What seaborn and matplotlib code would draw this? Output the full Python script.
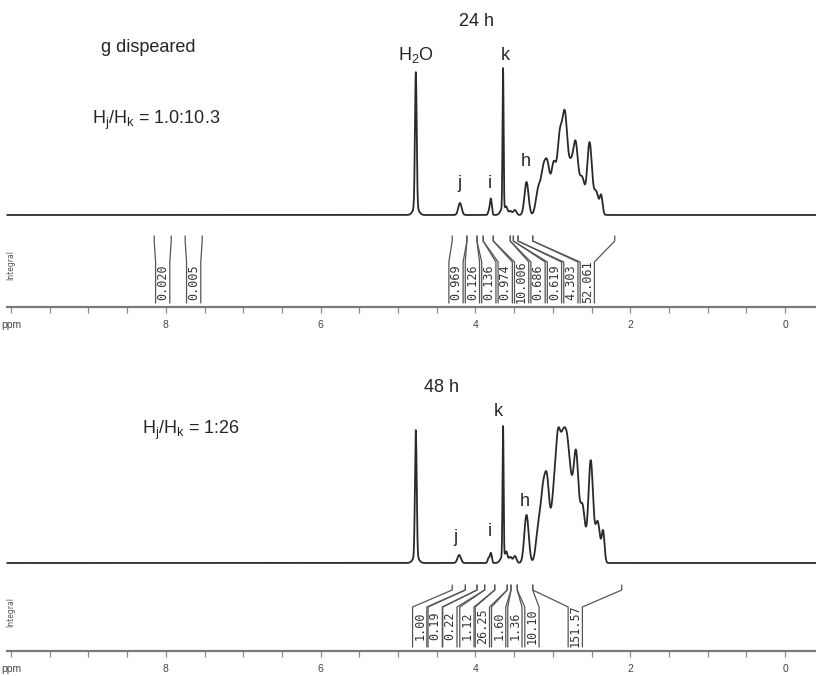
import numpy as np
import pandas as pd
import matplotlib
matplotlib.use("Agg")
import matplotlib.pyplot as plt
import seaborn as sns

# ---------------- spectrum peak tables (shift ppm, height, gaussian width ppm) ----------------
shift_24h = [4.77, 4.77, 4.20, 3.80, 3.825, 3.643, 3.645, 3.60, 3.55, 3.49, 3.34,
             2.80, 3.19, 3.125, 3.07, 2.99, 2.91, 2.845, 2.77, 2.705, 2.62, 2.525, 2.44, 2.375]
height_24h = [135, 8, 12, 16, 4, 140, 7, 6, 4, 5, 33,
              30, 24, 38, 42, 39, 56, 70, 20, 48, 24, 68, 22, 18]
width_24h = [0.011, 0.035, 0.022, 0.012, 0.012, 0.007, 0.03, 0.015, 0.02, 0.02, 0.026,
             0.14, 0.03, 0.03, 0.03, 0.03, 0.03, 0.03, 0.03, 0.03, 0.03, 0.03, 0.03, 0.018]

shift_48h = [4.77, 4.77, 4.21, 3.80, 3.83, 3.643, 3.645, 3.60, 3.55, 3.49, 3.34,
             2.82, 3.19, 3.13, 3.075, 2.99, 2.935, 2.87, 2.815, 2.77, 2.70, 2.615, 2.51, 2.42, 2.35]
height_48h = [126, 7, 8, 10, 5, 130, 7, 9, 6, 7, 48,
              50, 30, 58, 68, 40, 78, 70, 50, 25, 76, 40, 98, 40, 30]
width_48h = [0.011, 0.035, 0.022, 0.012, 0.012, 0.007, 0.03, 0.015, 0.02, 0.02, 0.028,
             0.14, 0.03, 0.03, 0.03, 0.03, 0.03, 0.035, 0.03, 0.03, 0.03, 0.03, 0.03, 0.03, 0.018]

# ---------------- integral regions ----------------
int_hi_24h = [8.15, 7.75, 4.30, 4.11, 3.98, 3.90, 3.77, 3.55, 3.51, 3.45, 3.26]
int_lo_24h = [7.93, 7.53, 4.11, 3.98, 3.90, 3.77, 3.55, 3.51, 3.45, 3.26, 2.20]
int_val_24h = [0.020, 0.005, 0.969, 0.126, 0.136, 0.974, 10.006, 0.686, 0.619, 4.303, 52.061]

int_hi_48h = [4.30, 4.13, 3.98, 3.88, 3.75, 3.59, 3.54, 3.46, 3.26]
int_lo_48h = [4.13, 3.98, 3.88, 3.75, 3.59, 3.54, 3.46, 3.26, 2.11]
int_val_48h = [1.00, 0.19, 0.22, 1.12, 26.25, 1.60, 1.36, 10.10, 151.57]

# ppm axis
tick_major = [10, 8, 6, 4, 2, 0]
tick_text = ["ppm", "8", "6", "4", "2", "0"]

# ---------------- layout / style ----------------
sns.set_theme(style="white")
plt.rcParams["font.family"] = ["Liberation Sans", "DejaVu Sans"]
plt.rcParams["mathtext.default"] = "regular"

W, H = 816, 676
fig = plt.figure(figsize=(W / 100, H / 100), dpi=100)
ax_top = fig.add_axes([0, 341 / H, 1, 335 / H])
ax_bot = fig.add_axes([0, 0, 1, 338 / H])

XLIM = (10.142, -0.40)
ppm = np.linspace(10.05, -0.40, 8000)
LINE = "#2a2a2a"
INT_COLOR = "#555555"


def spectrum(shifts, heights, widths):
    y = np.zeros_like(ppm)
    for s, h, w in zip(shifts, heights, widths):
        y += h * np.exp(-0.5 * ((ppm - s) / w) ** 2)
    return y


def draw_panel(ax, base, ylim, shifts, heights, widths, hi, lo, vals, fmt,
               slots, y_top, y_bend, y_lab, y_bot, y_intlabel):
    ax.set_xlim(*XLIM)
    ax.set_ylim(*ylim)
    df = pd.DataFrame({"ppm": ppm, "intensity": base + spectrum(shifts, heights, widths)})
    sns.lineplot(data=df, x="ppm", y="intensity", ax=ax, color=LINE, lw=1.3,
                 estimator=None, sort=False)

    # integral brackets with their rotated values
    hw = 0.092
    for a, b, v, s in zip(hi, lo, vals, slots):
        ax.plot([a, a, s + hw, s + hw], [y_top, y_top - 5, y_bend, y_bot],
                color=INT_COLOR, lw=0.9)
        ax.plot([b, b, s - hw, s - hw], [y_top, y_top - 5, y_bend, y_bot],
                color=INT_COLOR, lw=0.9)
        ax.text(s, y_lab, fmt.format(v), rotation=90, ha="center", va="center",
                fontsize=8.5, family="DejaVu Sans Mono", color="#333333")
    ax.text(10.0, y_intlabel, "Integral", rotation=90, ha="center",
            va="center", fontsize=5.5, family="DejaVu Sans", color="#555555")

    # ppm axis
    for side in ["top", "right", "left"]:
        ax.spines[side].set_visible(False)
    sp = ax.spines["bottom"]
    sp.set_position(("data", 0))
    sp.set_bounds(10.05, -0.42)
    sp.set_color("#7a7a7a")
    sp.set_linewidth(1.6)
    ax.set_xticks(tick_major)
    ax.set_xticklabels(tick_text)
    ax.set_xticks(np.arange(0, 10.01, 0.5), minor=True)
    ax.tick_params(axis="x", which="both", direction="out", length=4, width=0.9,
                   color="#8a8a8a", labelsize=7.5, labelcolor="#444444", pad=5,
                   bottom=True)
    ax.set_yticks([])
    ax.set_xlabel("")
    ax.set_ylabel("")
    ax.patch.set_alpha(0)


# 24 h panel
slots_24h = [8.04, 7.64, 4.251, 4.039, 3.827, 3.615, 3.403, 3.191, 2.979, 2.767, 2.555]
draw_panel(ax_top, 92, (-28, 307), shift_24h, height_24h, width_24h,
           int_hi_24h, int_lo_24h, int_val_24h, "{:.3f}", slots_24h,
           71, 45, 25, 4, 42)

# 48 h panel
slots_48h = [4.72, 4.52, 4.33, 4.11, 3.91, 3.70, 3.49, 3.27, 2.71]
draw_panel(ax_bot, 88, (-25, 313), shift_48h, height_48h, width_48h,
           int_hi_48h, int_lo_48h, int_val_48h, "{:.2f}", slots_48h,
           66, 44, 25, 4, 39)

FS = 13
# 24 h annotations
ax_top.text(3.98, 285, "24 h", ha="center", va="center", fontsize=FS)
ax_top.text(8.84, 259, "g dispeared", ha="left", va="center", fontsize=FS)
ax_top.text(8.95, 187, "H$_j$/H$_k$ = 1.0:10.3", ha="left", va="center", fontsize=FS)
ax_top.text(4.77, 252, "H$_2$O", ha="center", va="center", fontsize=FS)
for x, y, s in [(3.62, 252, "k"), (4.21, 124, "j"), (3.81, 124, "i"), (3.35, 145, "h")]:
    ax_top.text(x, y, s, ha="center", va="center", fontsize=FS)

# 48 h annotations
ax_bot.text(4.44, 264, "48 h", ha="center", va="center", fontsize=FS)
ax_bot.text(8.31, 221, "H$_j$/H$_k$ = 1:26", ha="left", va="center", fontsize=FS)
for x, y, s in [(3.70, 239, "k"), (3.36, 149, "h"), (4.26, 113, "j"), (3.82, 119, "i")]:
    ax_bot.text(x, y, s, ha="center", va="center", fontsize=FS)

fig.savefig("out.png", dpi=100, facecolor="white")
